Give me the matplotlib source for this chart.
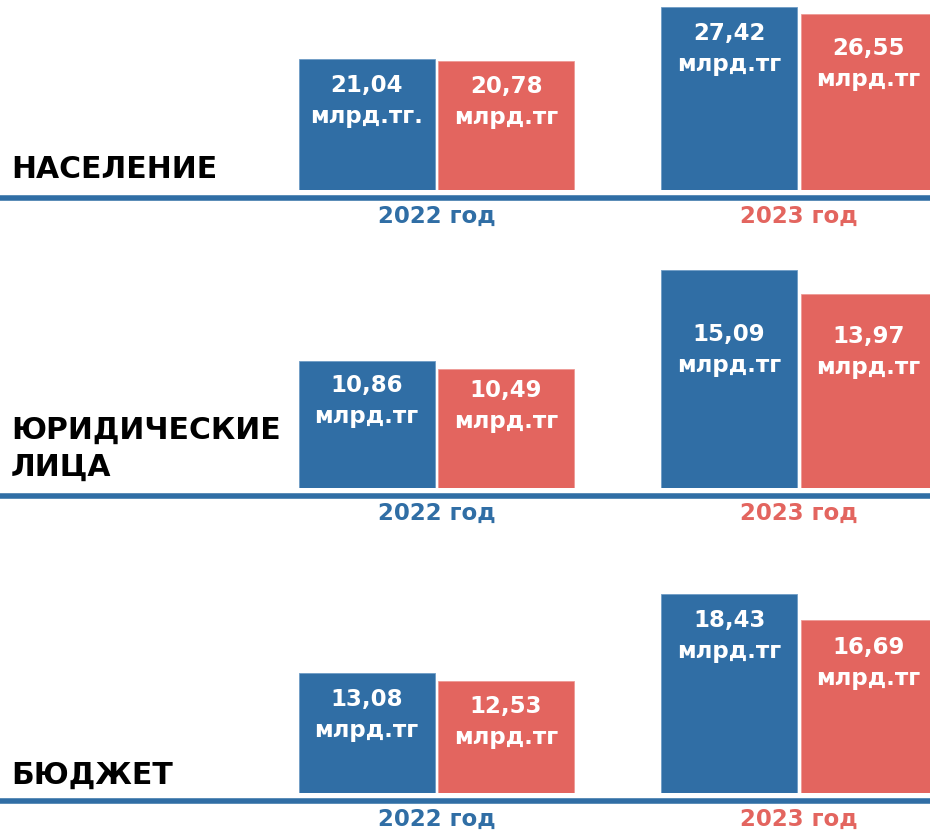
import matplotlib

matplotlib.use("Agg")
import matplotlib.pyplot as plt
from matplotlib.transforms import ScaledTranslation

# data
categories = ["НАСЕЛЕНИЕ", "ЮРИДИЧЕСКИЕ\nЛИЦА", "БЮДЖЕТ"]
years = ["2022 год", "2023 год"]
first_bar = [[21.04, 27.42], [10.86, 15.09], [13.08, 18.43]]
second_bar = [[20.78, 26.55], [10.49, 13.97], [12.53, 16.69]]
first_units = [["млрд.тг.", "млрд.тг"], ["млрд.тг", "млрд.тг"], ["млрд.тг", "млрд.тг"]]
second_units = [["млрд.тг", "млрд.тг"], ["млрд.тг", "млрд.тг"], ["млрд.тг", "млрд.тг"]]

BLUE = "#306ea5"
RED = "#e3655f"
W, H, DPI = 930, 831, 100

# layout per panel: bar baseline / axes top (px from top), px per unit, axis floor
baselines = [190, 487.5, 793]
tops = [0, 250, 570]
px_per_unit = [8.15, 21.6, 14.84]
floor = 5.0
# distance (px) from bar top to its label, [blue2022, red2022, blue2023, red2023]
label_drop = [[15, 14, 15, 23], [13, 10, 53, 31], [15, 14, 15, 16]]
cat_lift = [12, 12, 9]

fig = plt.figure(figsize=(W / DPI, H / DPI), dpi=DPI)
fig.patch.set_facecolor("white")

x = [0, 1]
bw = 0.3753
half_gap = 0.0047

for i, cat in enumerate(categories):
    b, t = baselines[i], tops[i]
    ax = fig.add_axes([0, (H - b) / H, 1, (b - t) / H])
    ax.set_xlim(-1.204, 1.362)
    ax.set_ylim(floor, floor + (b - t) / px_per_unit[i])
    ax.axis("off")

    xs1 = [xx - bw / 2 - half_gap for xx in x]
    xs2 = [xx + bw / 2 + half_gap for xx in x]
    ax.bar(xs1, [v - floor for v in first_bar[i]], bottom=floor, width=bw,
           color=BLUE, edgecolor="#6f9cc6", linewidth=0.6)
    ax.bar(xs2, [v - floor for v in second_bar[i]], bottom=floor, width=bw,
           color=RED, edgecolor="#ee9a95", linewidth=0.6)

    for j in range(2):
        for k, (xx, val, unit) in enumerate([(xs1[j], first_bar[i][j], first_units[i][j]),
                                              (xs2[j], second_bar[i][j], second_units[i][j])]):
            txt = f"{val:.2f}".replace(".", ",") + "\n" + unit
            ax.annotate(txt, (xx, val), xytext=(0, -label_drop[i][j * 2 + k]),
                        textcoords="offset pixels", ha="center", va="top",
                        color="white", fontsize=16.5, fontweight="bold",
                        linespacing=1.45, annotation_clip=False)

    # thick blue rule under the bars
    shift = ScaledTranslation(0, -8 / DPI, fig.dpi_scale_trans)
    ax.plot([0, 1], [0, 0], transform=ax.transAxes + shift, color=BLUE,
            linewidth=4, solid_capstyle="butt", clip_on=False)

    # year labels
    for j, yr in enumerate(years):
        ax.annotate(yr, (x[j], floor), xytext=(0, -26), textcoords="offset pixels",
                    ha="center", va="center", color=BLUE if j == 0 else RED,
                    fontsize=16.5, fontweight="bold", annotation_clip=False)

    # category name on the left
    ax.annotate(cat, (0, 0), xycoords="axes fraction", xytext=(11, cat_lift[i]),
                textcoords="offset pixels", ha="left", va="baseline",
                color="black", fontsize=21.5, fontweight="bold", linespacing=1.35,
                annotation_clip=False)

fig.savefig("out.png", dpi=DPI, facecolor="white")
